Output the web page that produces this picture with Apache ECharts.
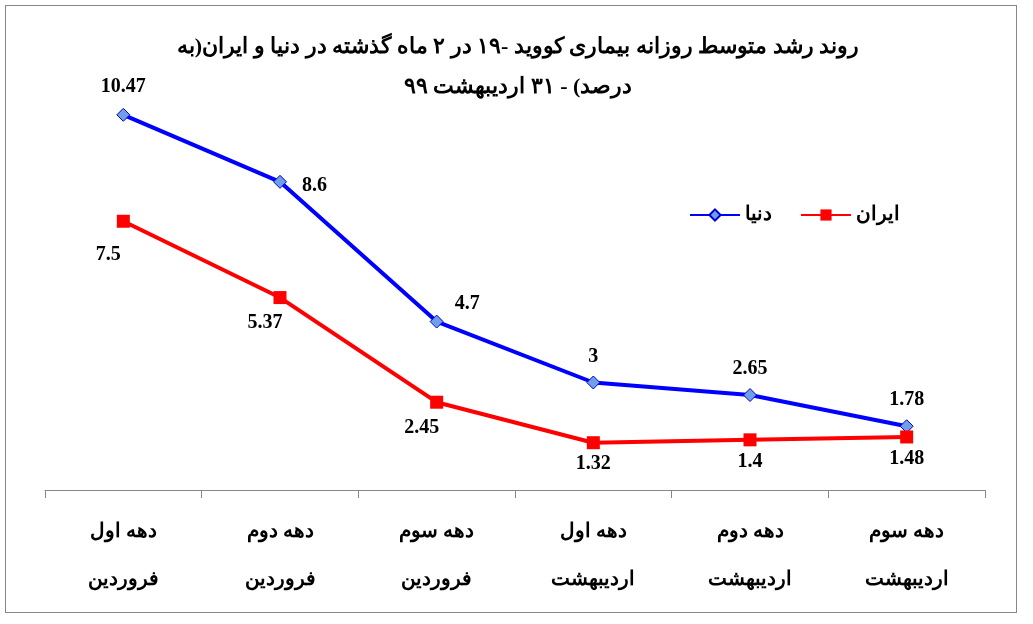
<!DOCTYPE html>
<html>
<head>
<meta charset="utf-8">
<script src="https://cdn.jsdelivr.net/npm/echarts@6/dist/echarts.min.js"></script>
<style>
  html, body { margin: 0; padding: 0; background: #fff; }
  #chart { width: 1033px; height: 624px; }
  #frame { position: absolute; left: 5px; top: 5px; width: 1010px; height: 606px; border: 1px solid #888; pointer-events: none; }
</style>
</head>
<body>
<div id="chart"></div>
<div id="frame"></div>
<script>
var categories = ['دهه اول\nفروردین', 'دهه دوم\nفروردین', 'دهه سوم\nفروردین',
                  'دهه اول\nاردیبهشت', 'دهه دوم\nاردیبهشت', 'دهه سوم\nاردیبهشت'];
var worldValues = [10.47, 8.6, 4.7, 3, 2.65, 1.78];
var iranValues = [7.5, 5.37, 2.45, 1.32, 1.4, 1.48];
var worldLabelPos = ['top', 'right', 'right', 'top', 'top', 'top'];
var font = '"Liberation Serif", "Times New Roman", serif';

var chart = echarts.init(document.getElementById('chart'));

function withLabels(values, positions, offsets) {
  return values.map(function (v, i) {
    return { value: v, label: { position: positions[i], offset: offsets ? offsets[i] : [0, 0] } };
  });
}

var option = {
  animation: false,
  textStyle: { fontFamily: font },
  title: {
    text: 'روند رشد متوسط روزانه بیماری کووید -۱۹ در ۲ ماه گذشته در دنیا و ایران(به\nدرصد) - ۳۱ اردیبهشت ۹۹',
    left: 513, top: 22, textAlign: 'center',
    textStyle: { fontFamily: font, fontSize: 22, fontWeight: 'bold', color: '#000', lineHeight: 40, align: 'center' }
  },
  legend: {
    right: 128, top: 200, itemWidth: 50, itemHeight: 14, itemGap: 28,
    textStyle: { fontFamily: font, fontSize: 20, fontWeight: 'bold', color: '#000' },
    data: ['دنیا', 'ایران']
  },
  grid: { left: 45, right: 48, top: 60, bottom: 134 },
  xAxis: {
    type: 'category', data: categories, boundaryGap: true,
    axisLine: { lineStyle: { color: '#888' } },
    axisTick: { show: true, length: 8, inside: false, lineStyle: { color: '#888' } },
    axisLabel: { fontFamily: font, fontSize: 20, fontWeight: 'bold', color: '#000', lineHeight: 48, margin: 18 }
  },
  yAxis: { type: 'value', min: 0, max: 12, show: false, splitLine: { show: false } },
  series: [
    {
      name: 'دنیا', type: 'line', data: withLabels(worldValues, worldLabelPos,
        [[0, -6], [10, 4], [6, -18], [0, -4], [0, -4], [0, -4]]),
      symbol: 'diamond', symbolSize: 13,
      lineStyle: { color: '#0000ff', width: 4 },
      itemStyle: { color: '#6f9fe8', borderColor: '#0000cc', borderWidth: 1 },
      label: { show: true, fontFamily: font, fontSize: 20, fontWeight: 'bold', color: '#000' }
    },
    {
      name: 'ایران', type: 'line', data: withLabels(iranValues,
        ['bottom', 'bottom', 'bottom', 'bottom', 'bottom', 'bottom'],
        [[-15, 12], [-15, 4], [-15, 4], [0, 0], [0, 0], [0, 0]]),
      symbol: 'rect', symbolSize: 13,
      lineStyle: { color: '#ff0000', width: 4 },
      itemStyle: { color: '#ff0000' },
      label: { show: true, fontFamily: font, fontSize: 20, fontWeight: 'bold', color: '#000' }
    }
  ]
};

chart.setOption(option);
</script>
</body>
</html>
